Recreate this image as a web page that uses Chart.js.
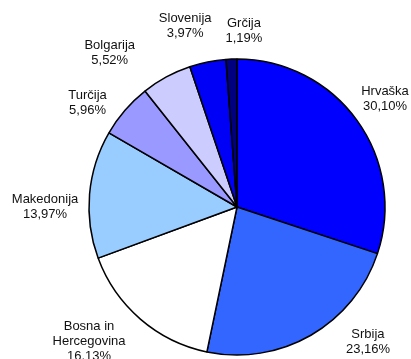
<!DOCTYPE html>
<html>
<head>
<meta charset="utf-8">
<script src="https://cdn.jsdelivr.net/npm/chart.js@4.4.1/dist/chart.umd.min.js"></script>
<style>
    html, body { margin: 0; padding: 0; background: #fff; }
    #wrap { width: 411px; height: 359px; }
</style>
</head>
<body>
<div id="wrap"><canvas id="pieChart" width="411" height="359"></canvas></div>
<script>
const countries = ['Hrvaška', 'Srbija', 'Bosna in Hercegovina', 'Makedonija', 'Turčija', 'Bolgarija', 'Slovenija', 'Grčija'];
const shares = [30.10, 23.16, 16.13, 13.97, 5.96, 5.52, 3.97, 1.19];
const labelLines = [['Hrvaška'], ['Srbija'], ['Bosna in', 'Hercegovina'], ['Makedonija'], ['Turčija'], ['Bolgarija'], ['Slovenija'], ['Grčija']];

const sliceColors = ['#0000FF', '#3366FF', '#FFFFFF', '#99CCFF', '#9999FF', '#CCCCFF', '#0000F6', '#000080'];

// label centres, in units of the pie radius, measured from the pie centre
const labelSpots = [
    [1.00, -0.73], [0.885, 0.91], [-1.00, 0.91], [-1.297, 0.0],
    [-1.01, -0.70], [-0.86, -1.04], [-0.35, -1.226], [0.047, -1.19]
];

const fmt = v => v.toFixed(2).replace('.', ',') + '%';

// draws the category name and percentage next to each slice
const sliceLabels = {
    id: 'sliceLabels',
    afterDraw(chart) {
        const ctx = chart.ctx;
        const arc = chart.getDatasetMeta(0).data[0];
        const cx = arc.x, cy = arc.y, r = arc.outerRadius;
        ctx.save();
        ctx.font = '13px "Liberation Sans", Arial, sans-serif';
        ctx.fillStyle = '#111';
        ctx.textAlign = 'center';
        ctx.textBaseline = 'middle';
        const lineH = 15;
        shares.forEach((v, i) => {
            const lines = labelLines[i].concat([fmt(v)]);
            const x = cx + labelSpots[i][0] * r;
            const y = cy + labelSpots[i][1] * r;
            const top = y - (lines.length - 1) * lineH / 2;
            lines.forEach((t, j) => ctx.fillText(t, x, top + j * lineH));
        });
        ctx.restore();
    }
};

new Chart(document.getElementById('pieChart'), {
    type: 'pie',
    data: {
        labels: countries,
        datasets: [{
            data: shares,
            backgroundColor: sliceColors,
            borderColor: '#000',
            borderWidth: 1.5,
            borderAlign: 'center',
            hoverOffset: 0,
            radius: 148
        }]
    },
    options: {
        responsive: false,
        animation: false,
        layout: { padding: { left: 73, right: 10, top: 60, bottom: 5 } },
        plugins: {
            legend: { display: false },
            tooltip: { enabled: false }
        }
    },
    plugins: [sliceLabels]
});
</script>
</body>
</html>
